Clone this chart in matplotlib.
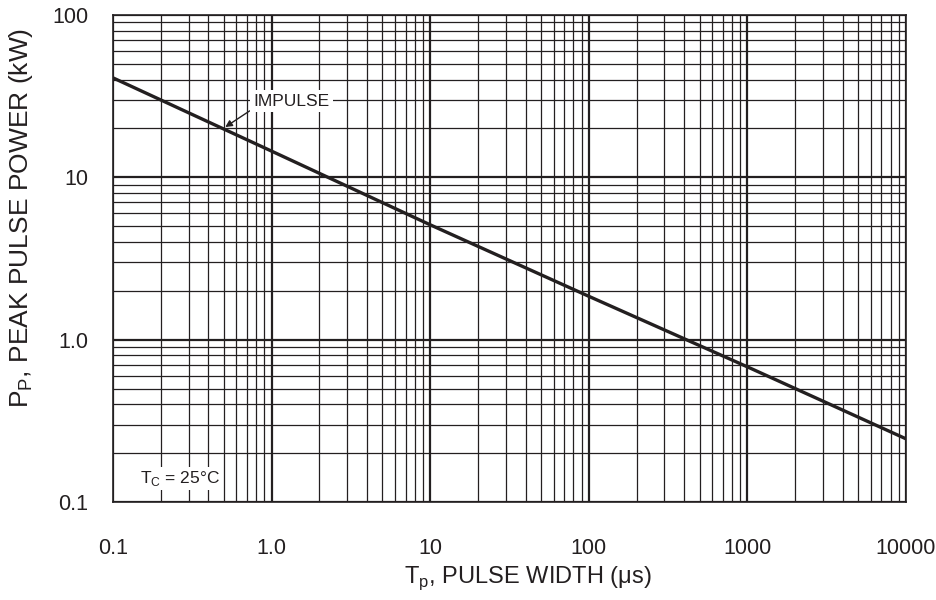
import numpy as np
import matplotlib.pyplot as plt
from matplotlib.ticker import FixedLocator, LogLocator, NullFormatter

plt.rcParams['font.family'] = ['Liberation Sans', 'DejaVu Sans']

# pulse width (us) vs peak pulse power (kW)
pulse_width = [0.1, 1.0, 10, 100, 1000, 10000]
peak_power  = [41, 14.5, 5.1, 1.85, 0.68, 0.245]

x_ticks  = [0.1, 1, 10, 100, 1000, 10000]
x_labels = ['0.1', '1.0', '10', '100', '1000', '10000']
y_ticks  = [0.1, 1, 10, 100]
y_labels = ['0.1', '1.0', '10', '100']

INK = '#231f20'

fig = plt.figure(figsize=(9.36, 6.0), dpi=100)
ax  = fig.add_axes([113/936, 1-502/600, (906-113)/936, (502-15)/600])

ax.set_xscale('log')
ax.set_yscale('log')
ax.set_xlim(0.1, 10000)
ax.set_ylim(0.1, 100)

ax.xaxis.set_major_locator(FixedLocator(x_ticks))
ax.yaxis.set_major_locator(FixedLocator(y_ticks))
ax.set_xticklabels(x_labels)
ax.set_yticklabels(y_labels)
ax.xaxis.set_minor_locator(LogLocator(base=10, subs=np.arange(2, 10)))
ax.yaxis.set_minor_locator(LogLocator(base=10, subs=np.arange(2, 10)))
ax.xaxis.set_minor_formatter(NullFormatter())
ax.yaxis.set_minor_formatter(NullFormatter())

ax.grid(which='major', color=INK, lw=1.6)
ax.grid(which='minor', color=INK, lw=0.9)
ax.set_axisbelow(True)
ax.tick_params(which='both', length=0, labelsize=15.5, colors=INK)
ax.tick_params(axis='x', pad=26)
ax.tick_params(axis='y', pad=18)
for s in ax.spines.values():
    s.set_color(INK)
    s.set_linewidth(1.2)

ax.plot(pulse_width, peak_power, color=INK, lw=2.4, zorder=5)

ax.annotate('IMPULSE', xy=(0.51, 20.4), xytext=(0.765, 29.5),
            fontsize=12.5, color=INK, va='center', ha='left',
            bbox=dict(boxstyle='square,pad=0.2', fc='white', ec='none'),
            arrowprops=dict(arrowstyle='-|>', color=INK, lw=1.0,
                            mutation_scale=10, shrinkA=0, shrinkB=0,
                            relpos=(0.0, 0.0)),
            zorder=6)

ax.text(0.147, 0.14, r'T$_\mathregular{C}$ = 25°C', fontsize=12.5, color=INK,
        va='center', ha='left',
        bbox=dict(boxstyle='square,pad=0.1', fc='white', ec='none'), zorder=6)

fig.text(528/936, 1-578/600, r'T$_\mathregular{p}$, PULSE WIDTH (μs)',
         fontsize=17, color=INK, ha='center', va='center')
fig.text(21/936, 1-218/600, r'P$_\mathregular{P}$, PEAK PULSE POWER (kW)',
         fontsize=19, color=INK, ha='center', va='center', rotation=90)

fig.savefig('out.png', dpi=100)
